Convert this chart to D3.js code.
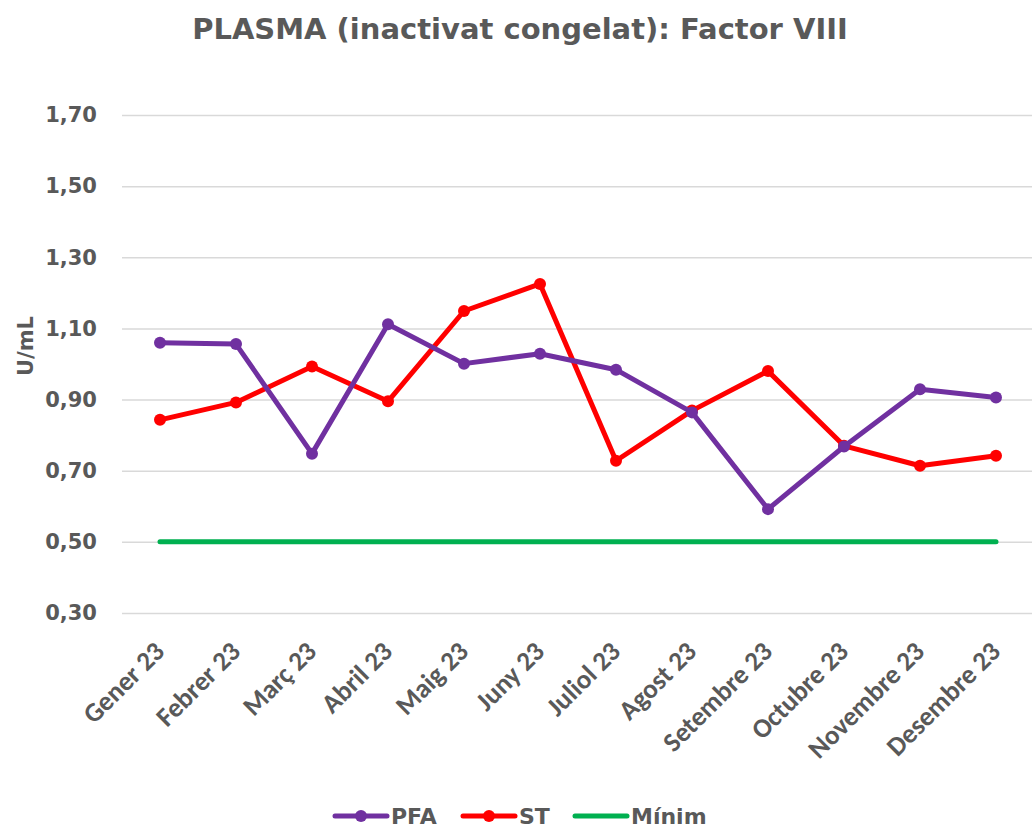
<!DOCTYPE html>
<html>
<head>
<meta charset="utf-8">
<script src="https://cdn.jsdelivr.net/npm/d3@7"></script>
<style>
  body { margin: 0; background: #fff; }
  text { fill: #595959; font-weight: bold; }
</style>
</head>
<body>
<div id="chart"></div>
<script>
// data
var months = ["Gener 23", "Febrer 23", "Març 23", "Abril 23", "Maig 23", "Juny 23",
              "Juliol 23", "Agost 23", "Setembre 23", "Octubre 23", "Novembre 23", "Desembre 23"];
var pfa = [1.06, 1.056, 0.748, 1.112, 1.001, 1.029, 0.984, 0.864, 0.592, 0.768, 0.929, 0.906];
var st = [0.843, 0.892, 0.993, 0.895, 1.149, 1.225, 0.728, 0.869, 0.980, 0.770, 0.714, 0.742];
var minim = [0.50, 0.50, 0.50, 0.50, 0.50, 0.50, 0.50, 0.50, 0.50, 0.50, 0.50, 0.50];
var yTicks = [0.30, 0.50, 0.70, 0.90, 1.10, 1.30, 1.50, 1.70];

var series = [
  {name: "PFA", values: pfa, color: "#7030A0", markers: true},
  {name: "ST", values: st, color: "#FF0000", markers: true},
  {name: "Mínim", values: minim, color: "#00B050", markers: false}
];

var width = 1032, height = 828;
var margin = {left: 122, right: -2, top: 115, bottom: 215};

var svg = d3.select("#chart").append("svg")
    .attr("width", width)
    .attr("height", height);

var xScale = d3.scaleBand().domain(months).range([margin.left, width - margin.right]);
var yScale = d3.scaleLinear().domain([0.30, 1.70]).range([height - margin.bottom, margin.top]);
var fmt = function(d) { return d3.format(".2f")(d).replace(".", ","); };
var cx = function(i) { return xScale(months[i]) + xScale.bandwidth() / 2; };

// title
svg.append("text")
    .attr("x", 520).attr("y", 39)
    .attr("text-anchor", "middle")
    .style("font-family", "DejaVu Sans")
    .style("font-size", "29px")
    .text("PLASMA (inactivat congelat): Factor VIII");

// gridlines + y labels
var yAxis = d3.axisLeft(yScale).tickValues(yTicks).tickFormat(fmt)
    .tickSize(-(width - margin.left - margin.right)).tickPadding(25);
var gy = svg.append("g")
    .attr("transform", "translate(" + margin.left + ",0)")
    .call(yAxis);
gy.select(".domain").remove();
gy.selectAll("line").attr("stroke", "#d9d9d9").attr("stroke-width", 1.5);
gy.selectAll("text")
    .style("font-family", "DejaVu Sans")
    .style("font-size", "21px")
    .attr("fill", "#595959");

// y axis title
svg.append("text")
    .attr("transform", "translate(33,346) rotate(-90)")
    .attr("text-anchor", "middle")
    .style("font-family", "DejaVu Sans")
    .style("font-size", "21px")
    .text("U/mL");

// x labels
var xAxis = d3.axisBottom(xScale).tickSize(0).tickPadding(0);
var gx = svg.append("g")
    .attr("transform", "translate(0," + (height - margin.bottom) + ")")
    .call(xAxis);
gx.select(".domain").remove();
gx.selectAll("text")
    .attr("y", 0).attr("dy", 0)
    .attr("text-anchor", "end")
    .attr("transform", "translate(6,40) rotate(-45)")
    .style("font-family", "Carlito, Lato")
    .style("font-size", "27px")
    .attr("fill", "#595959");

var line = d3.line()
    .x(function(d, i) { return cx(i); })
    .y(function(d) { return yScale(d); });

// draw Mínim first, then ST, then PFA on top
[series[2], series[1], series[0]].forEach(function(s) {
  svg.append("path")
      .datum(s.values)
      .attr("d", line)
      .attr("fill", "none")
      .attr("stroke", s.color)
      .attr("stroke-width", 5)
      .attr("stroke-linejoin", "round")
      .attr("stroke-linecap", "round");
  if (s.markers) {
    svg.selectAll(".m" + s.name)
        .data(s.values)
        .enter().append("circle")
        .attr("cx", function(d, i) { return cx(i); })
        .attr("cy", function(d) { return yScale(d); })
        .attr("r", 6)
        .attr("fill", s.color);
  }
});

// legend
var legendX = [335, 463, 575];
var legend = svg.selectAll(".legend")
    .data(series)
    .enter().append("g")
    .attr("class", "legend")
    .attr("transform", function(d, i) { return "translate(" + legendX[i] + ",816)"; });
legend.append("line")
    .attr("x1", 0).attr("x2", 52)
    .attr("stroke", function(d) { return d.color; })
    .attr("stroke-width", 5)
    .attr("stroke-linecap", "round");
legend.filter(function(d) { return d.markers; }).append("circle")
    .attr("cx", 26).attr("r", 6)
    .attr("fill", function(d) { return d.color; });
legend.append("text")
    .attr("x", 56).attr("dy", "0.36em")
    .style("font-family", "DejaVu Sans")
    .style("font-size", "22px")
    .text(function(d) { return d.name; });
</script>
</body>
</html>
